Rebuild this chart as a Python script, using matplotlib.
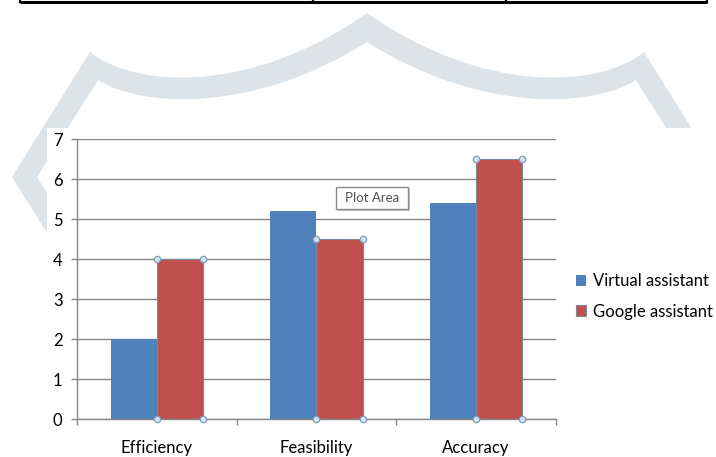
import numpy as np
import matplotlib
matplotlib.use("Agg")
import matplotlib.pyplot as plt
from matplotlib.patches import Rectangle, PathPatch
from matplotlib.path import Path

# data
categories = ["Efficiency", "Feasibility", "Accuracy"]
virtual_assistant = [2.0, 5.2, 5.4]
google_assistant = [4.0, 4.5, 6.5]
series_names = ["Virtual assistant", "Google assistant"]
y_ticks = [0, 1, 2, 3, 4, 5, 6, 7]

BLUE = "#4F81BD"
RED = "#C0504D"
GRID = "#878787"
WATERMARK = "#dde3e6"

plt.rcParams["font.family"] = ["Lato", "DejaVu Sans"]

W, H = 716, 457
fig = plt.figure(figsize=(W / 100, H / 100), dpi=100)

# background layer in pixel coordinates (watermark, table edge, chart area)
bg = fig.add_axes([0, 0, 1, 1])
bg.set_xlim(0, W)
bg.set_ylim(H, 0)
bg.axis("off")


def left_half():
    # outer edge from the lower arm up to the peak, then inner edge back
    outer = [(64, 260), (12, 177), (90, 52), (135, 88), (250, 95), (367, 13)]
    inner = [(367, 42), (255, 113), (142, 108), (98, 80), (37, 177), (89, 260)]
    return outer, inner


outer, inner = left_half()
mirror = lambda pts: [(734 - x, y) for x, y in pts]
verts = (outer
         + mirror(outer[::-1])[1:]          # right outer edge
         + mirror(inner[::-1])[:-1]         # right inner edge
         + inner
         + [outer[0]])
codes = ([Path.MOVETO, Path.LINETO, Path.LINETO, Path.CURVE4, Path.CURVE4, Path.CURVE4]
         + [Path.CURVE4, Path.CURVE4, Path.CURVE4, Path.LINETO, Path.LINETO]
         + [Path.LINETO, Path.LINETO, Path.LINETO, Path.CURVE4, Path.CURVE4]
         + [Path.CURVE4, Path.CURVE4, Path.CURVE4, Path.CURVE4, Path.LINETO, Path.LINETO]
         + [Path.CLOSEPOLY])
bg.add_patch(PathPatch(Path(verts, codes), facecolor=WATERMARK, edgecolor="none", zorder=1))

# white chart area over the watermark
bg.add_patch(Rectangle((47, 128), W - 47, H - 128, facecolor="white", edgecolor="none", zorder=2))

# bottom border of the table above the chart
bg.plot([20, 707], [2, 2], color="black", lw=2.2, zorder=3, solid_capstyle="butt")
for x in [20, 313, 506, 707]:
    bg.plot([x, x], [-2, 2], color="black", lw=1.6, zorder=3)

# chart
ax = fig.add_axes([77 / W, (H - 419) / H, (556 - 77) / W, (419 - 139) / H])
ax.set_facecolor("none")

x = np.arange(len(categories))
w = 0.29
bars_va = ax.bar(x - w / 2, virtual_assistant, w, color=BLUE, label=series_names[0], zorder=2)
bars_ga = ax.bar(x + w / 2, google_assistant, w, color=RED, edgecolor="#7d8894",
                 linewidth=0.8, label=series_names[1], zorder=2)

# selection handles on the red series
for b in bars_ga:
    x0, x1, h = b.get_x(), b.get_x() + b.get_width(), b.get_height()
    ax.plot([x0, x1, x0, x1], [0, 0, h, h], "o", ms=4.6, mfc="#d3e2ef", mec="#7f9ebb",
            mew=0.9, zorder=4, clip_on=False)

ax.set_xlim(-0.5, len(categories) - 0.5)
ax.set_ylim(0, 7)
ax.set_yticks(y_ticks)
ax.set_xticks(x)
ax.set_xticklabels(categories)
ax.set_xticks(np.arange(len(categories) + 1) - 0.5, minor=True)
ax.tick_params(axis="x", which="major", length=0, pad=15, labelsize=12)
ax.tick_params(axis="x", which="minor", length=4, width=1, color=GRID, direction="out")
ax.tick_params(axis="y", length=4.5, width=1, color=GRID, pad=6, labelsize=12)
ax.yaxis.grid(True, color=GRID, linewidth=1, zorder=0)
ax.set_axisbelow(True)
for s in ["top", "right"]:
    ax.spines[s].set_visible(False)
for s in ["left", "bottom"]:
    ax.spines[s].set_color(GRID)
    ax.spines[s].set_linewidth(1)

ax.legend(loc="center left", bbox_to_anchor=(576 / W, 1 - 296.5 / H),
          bbox_transform=fig.transFigure, frameon=False, fontsize=12,
          handlelength=0.6, handleheight=0.6, handletextpad=0.4,
          labelspacing=0.85, borderaxespad=0, borderpad=0)

# "Plot Area" tooltip
fig.add_artist(Rectangle((338, 189), 72, 22, transform=bg.transData,
                         facecolor="#c8c8c8", edgecolor="none", zorder=5))
fig.add_artist(Rectangle((336, 187), 72, 22, transform=bg.transData,
                         facecolor="white", edgecolor="#8a8a8a", linewidth=1, zorder=6))
fig.text(372, 198.5, "Plot Area", transform=bg.transData, ha="center", va="center",
         fontsize=9.5, color="#505050", zorder=7)

fig.savefig("out.png", dpi=100)
